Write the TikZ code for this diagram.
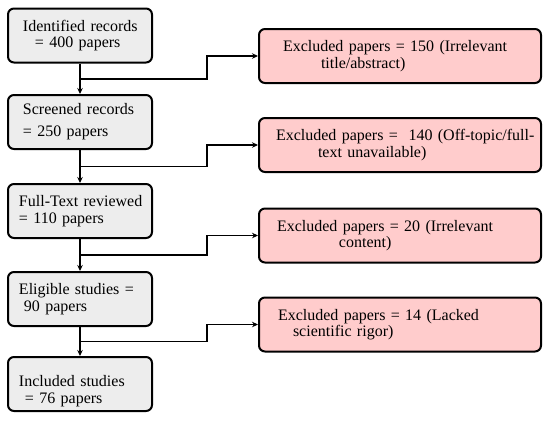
\documentclass[tikz,border=0pt]{standalone}
\usepackage{fontspec}
\setmainfont{Liberation Serif}
\usetikzlibrary{positioning,arrows.meta,calc}
\definecolor{stagegray}{HTML}{EDEDED}
\definecolor{exclpink}{HTML}{FFCCCC}

\begin{document}
\begin{tikzpicture}[
  x=1pt, y=-1pt,
  >={Stealth[length=6pt,width=5.5pt]},
  every node/.style={font=\fontsize{16}{16.5}\selectfont},
  stage/.style={draw, line width=2pt, rounded corners=6pt, fill=stagegray,
    minimum width=144pt, minimum height=54pt, inner xsep=8pt, inner ysep=0pt,
    text width=128pt, align=left},
  excl/.style={draw, line width=2pt, rounded corners=6pt, fill=exclpink,
    minimum width=282pt, minimum height=54pt, inner xsep=10pt, inner ysep=0pt,
    text width=262pt, align=left},
  flow/.style={->, line width=1.8pt}
]
\useasboundingbox (0,0) rectangle (550,421);

% main stages (left column)
\node[stage] (ident) at (80,35.5)
  {\hspace*{7pt}Identified records\\\hspace*{19pt}= 400 papers};
\node[stage] (screen) at (80,122)
  {\hspace*{7pt}Screened records\\[5.5pt]\hspace*{7pt}= 250 papers};
\node[stage] (fulltext) at (80,211)
  {\hspace*{3pt}Full-Text reviewed\\\hspace*{3pt}= 110 papers};
\node[stage] (eligible) at (80,299)
  {\hspace*{3pt}Eligible studies =\\\hspace*{8pt}90 papers};
\node[stage] (included) at (80,384)
  {\rule{0pt}{25pt}\hspace*{3pt}Included studies\\\hspace*{9pt}= 76 papers};

% exclusions (right column)
\node[excl] (excl1) at (400,56)
  {\hspace*{14pt}\mbox{Excluded papers = 150 (Irrelevant}\\\hspace*{52pt}title/abstract)};
\node[excl] (excl2) at (400,145)
  {\hspace*{7pt}\mbox{Excluded papers =\ \ 140 (Off-topic/full-}\\\hspace*{49pt}text unavailable)};
\node[excl] (excl3) at (400,235.5)
  {\hspace*{8pt}\mbox{Excluded papers = 20 (Irrelevant}\\\hspace*{70pt}content)};
\node[excl] (excl4) at (400,324.5)
  {\hspace*{9pt}\mbox{Excluded papers = 14 (Lacked}\\\hspace*{24pt}scientific rigor)};

% branch points
\coordinate (j1) at ($(ident.south)!.5!(screen.north)$);
\coordinate (j2) at ($(screen.south)!.5!(fulltext.north)$);
\coordinate (j3) at ($(fulltext.south)!.5!(eligible.north)$);
\coordinate (j4) at ($(eligible.south)!.5!(included.north)$);

% downward flow
\draw[flow] (ident) -- (screen);
\draw[flow] (screen) -- (fulltext);
\draw[flow] (fulltext) -- (eligible);
\draw[flow] (eligible) -- (included);

% side branches
\draw[flow] (j1) -| ([xshift=-51pt]excl1.west) -- (excl1.west);
\draw[flow] (j2) -| ([xshift=-51pt]excl2.west) -- (excl2.west);
\draw[flow] (j3) -| ([xshift=-51pt]excl3.west) -- (excl3.west);
\draw[flow] (j4) -| ([xshift=-51pt]excl4.west) -- (excl4.west);

\end{tikzpicture}
\end{document}
